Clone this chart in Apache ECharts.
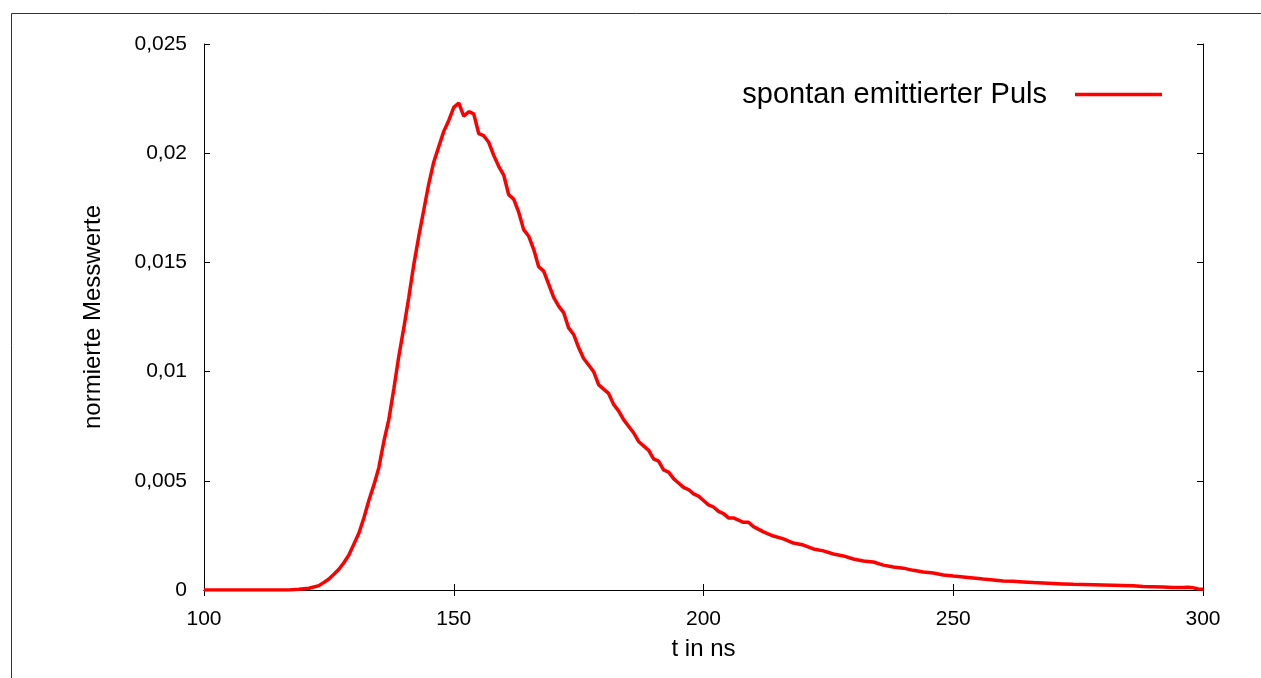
<!DOCTYPE html>
<html>
<head>
<meta charset="utf-8">
<script src="https://cdn.jsdelivr.net/npm/echarts@6/dist/echarts.min.js"></script>
<style>html,body{margin:0;padding:0;background:#fff;}#c{width:1261px;height:678px;}</style>
</head>
<body>
<div id="c"></div>
<script>
var seriesName = 'spontan emittierter Puls';
var xTicks = [100, 150, 200, 250, 300];
var yTickLabels = ['0', '0,005', '0,01', '0,015', '0,02', '0,025'];
var timeNs = [100,105,110,115,117,119,121,123,124,125,126,127,128,129,130,131,132,133,134,135,136,137,138,139,140,141,142,143,144,145,146,147,148,149,150,151,152,153,154,155,156,157,158,159,160,161,162,163,164,165,166,167,168,169,170,171,172,173,174,175,176,177,178,179,180,181,182,183,184,185,186,187,188,189,190,191,192,193,194,195,196,197,198,199,200,201,202,203,204,205,206,207,208,209,210,212,214,216,218,220,222,224,226,228,230,232,234,236,238,240,242,244,246,248,250,252,254,256,258,260,262,264,266,268,270,272,274,276,278,280,282,284,286,288,290,292,294,296,297,298,299,300];
var measured = [0,0,0,0,0,0.00003,0.00008,0.0002,0.00035,0.0005,0.00072,0.00095,0.00125,0.0016,0.0021,0.0026,0.0033,0.0041,0.0048,0.0056,0.0068,0.0078,0.0092,0.0107,0.0120,0.0134,0.0149,0.0162,0.0174,0.0186,0.0196,0.0203,0.0210,0.0215,0.0221,0.0223,0.0217,0.0219,0.0218,0.0209,0.0208,0.0205,0.0199,0.0194,0.0190,0.0181,0.0179,0.0173,0.0165,0.0162,0.0156,0.0148,0.0146,0.0140,0.0134,0.0130,0.0127,0.0120,0.0117,0.0111,0.0106,0.0103,0.0100,0.0094,0.0092,0.0090,0.0085,0.0082,0.0078,0.0075,0.0072,0.0068,0.0066,0.0064,0.0060,0.0059,0.0055,0.0054,0.0051,0.0049,0.0047,0.0046,0.0044,0.0043,0.0041,0.0039,0.0038,0.0036,0.0035,0.0033,0.0033,0.0032,0.0031,0.0031,0.0029,0.00266,0.00247,0.00234,0.00215,0.00206,0.00188,0.00179,0.00165,0.00156,0.00142,0.00133,0.00128,0.00114,0.00105,0.0010,0.0009,0.00082,0.00078,0.00069,0.00064,0.0006,0.00055,0.0005,0.00046,0.00041,0.0004,0.00037,0.00034,0.00032,0.0003,0.00028,0.00026,0.00025,0.00024,0.00023,0.00022,0.00021,0.0002,0.00016,0.00015,0.00014,0.00012,0.00012,0.00013,0.0001,0.00005,0.00004];

var chart = echarts.init(document.getElementById('c'), null, {renderer: 'canvas'});
var font = 'Liberation Sans, Arial, sans-serif';
var data = timeNs.map(function (t, i) { return [t, measured[i]]; });
var tickStyle = {show: true, inside: true, length: 6, lineStyle: {color: '#000', width: 1}};
var lineStyle = {show: true, lineStyle: {color: '#000', width: 1}};
chart.setOption({
  animation: false,
  backgroundColor: '#fff',
  grid: {left: 204, right: 58, top: 44, bottom: 88, show: false},
  legend: {
    data: [{name: seriesName, icon: 'rect'}],
    right: 94, top: 75, align: 'right',
    itemWidth: 87, itemHeight: 3.5, itemGap: 0,
    textStyle: {fontFamily: font, fontSize: 29, color: '#000', padding: [0, 23, 0, 0]}
  },
  xAxis: [{
    type: 'value', min: 100, max: 300, interval: 50,
    name: 't in ns', nameLocation: 'middle', nameGap: 47,
    nameTextStyle: {fontFamily: font, fontSize: 24, color: '#000'},
    axisLine: lineStyle, axisTick: tickStyle, splitLine: {show: false},
    axisLabel: {fontFamily: font, fontSize: 21, color: '#000', margin: 19}
  }, {
    type: 'value', position: 'top', min: 100, max: 300, interval: 50,
    axisLine: lineStyle, axisTick: tickStyle, splitLine: {show: false}, axisLabel: {show: false}
  }],
  yAxis: [{
    type: 'value', min: 0, max: 0.025, interval: 0.005,
    name: 'normierte Messwerte', nameLocation: 'middle', nameGap: 99, nameRotate: 90,
    nameTextStyle: {fontFamily: font, fontSize: 24, color: '#000'},
    axisLine: lineStyle, axisTick: tickStyle, splitLine: {show: false},
    axisLabel: {fontFamily: font, fontSize: 21, color: '#000', margin: 17,
      formatter: function (v) { return yTickLabels[Math.round(v / 0.005)]; }}
  }, {
    type: 'value', position: 'right', min: 0, max: 0.025, interval: 0.005,
    axisLine: lineStyle, axisTick: tickStyle, splitLine: {show: false}, axisLabel: {show: false}
  }],
  graphic: [
    {type: 'line', shape: {x1: 11.5, y1: 13.5, x2: 1261, y2: 13.5}, style: {stroke: '#333', lineWidth: 1}},
    {type: 'line', shape: {x1: 11.5, y1: 13.5, x2: 11.5, y2: 678}, style: {stroke: '#333', lineWidth: 1}}
  ],
  series: [{
    name: seriesName, type: 'line', data: data, showSymbol: false, symbol: 'none',
    lineStyle: {color: '#ff0000', width: 3.5}, itemStyle: {color: '#ff0000'},
    xAxisIndex: 0, yAxisIndex: 0, smooth: false
  }]
});
</script>
</body>
</html>
